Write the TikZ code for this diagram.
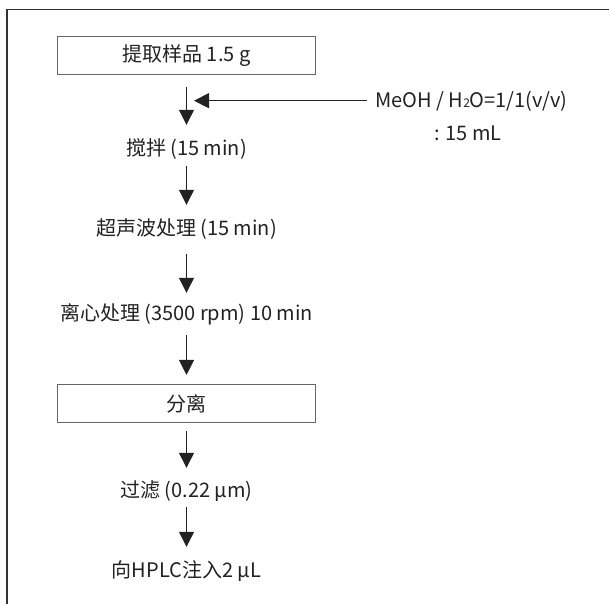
\documentclass[tikz,border=0pt]{standalone}
\usepackage{fontspec}
\setmainfont{Noto Sans CJK SC}
\usetikzlibrary{arrows.meta}
\definecolor{ink}{HTML}{222222}
\definecolor{boxline}{HTML}{666666}
\definecolor{frameline}{HTML}{333333}
\tikzset{
  px/.style={x=1pt,y=-1pt},
  lbl/.style={font=\fontsize{20pt}{24pt}\selectfont, text=ink, inner sep=0pt, anchor=base, text height=16pt, text depth=4pt},
  stepbox/.style={draw=boxline, line width=1.1pt, font=\fontsize{20pt}{24pt}\selectfont, text=ink, minimum width=258pt, minimum height=38pt, inner sep=0pt, anchor=center},
  arr/.style={draw=ink, line width=1.2pt, -{Triangle[length=15pt,width=15pt]}},
  framelines/.style={draw=frameline, line width=1.3pt}
}
\begin{document}
\begin{tikzpicture}[px]
\useasboundingbox (0,0) rectangle (609,604);
\draw[framelines] (7,604) -- (7,9.5) -- (609,9.5);

\node[stepbox] (b1) at (186.5,55.5) {提取样品 1.5 g};
\node[lbl] (t1) at (186.5,155.5) {搅拌 (15 min)};
\node[lbl] (t2) at (186.5,235.5) {超声波处理 (15 min)};
\node[lbl] (t3) at (186.5,320.5) {离心处理 (3500 rpm) 10 min};
\node[stepbox] (b2) at (186.5,403.5) {分离};
\node[lbl] (t4) at (186.5,497.5) {过滤 (0.22 µm)};
\node[lbl] (t5) at (186.5,577.5) {向HPLC注入2 µL};

\node[lbl, anchor=base west] (meoh) at (375,108) {MeOH / H\raisebox{0pt}{\fontsize{12pt}{12pt}\selectfont 2}O=1/1(v/v)};
\node[lbl] (vol) at (468,141) {: 15 mL};
\coordinate (mtip) at (194,100.7);

\draw[arr, shorten <=11.7pt, shorten >=14.5pt] (b1.south) -- (t1.north);
\draw[arr, shorten <=6.5pt, shorten >=14.5pt] (t1.south) -- (t2.north);
\draw[arr, shorten <=14.5pt, shorten >=11.5pt] (t2.south) -- (t3.north);
\draw[arr, shorten <=10.5pt, shorten >=9pt] (t3.south) -- (b2.north);
\draw[arr, shorten <=8pt, shorten >=13.5pt] (b2.south) -- (t4.north);
\draw[arr, shorten <=5.5pt, shorten >=14.5pt] (t4.south) -- (t5.north);
\draw[arr, shorten <=8pt] (meoh.west |- mtip) -- (mtip);
\end{tikzpicture}
\end{document}
